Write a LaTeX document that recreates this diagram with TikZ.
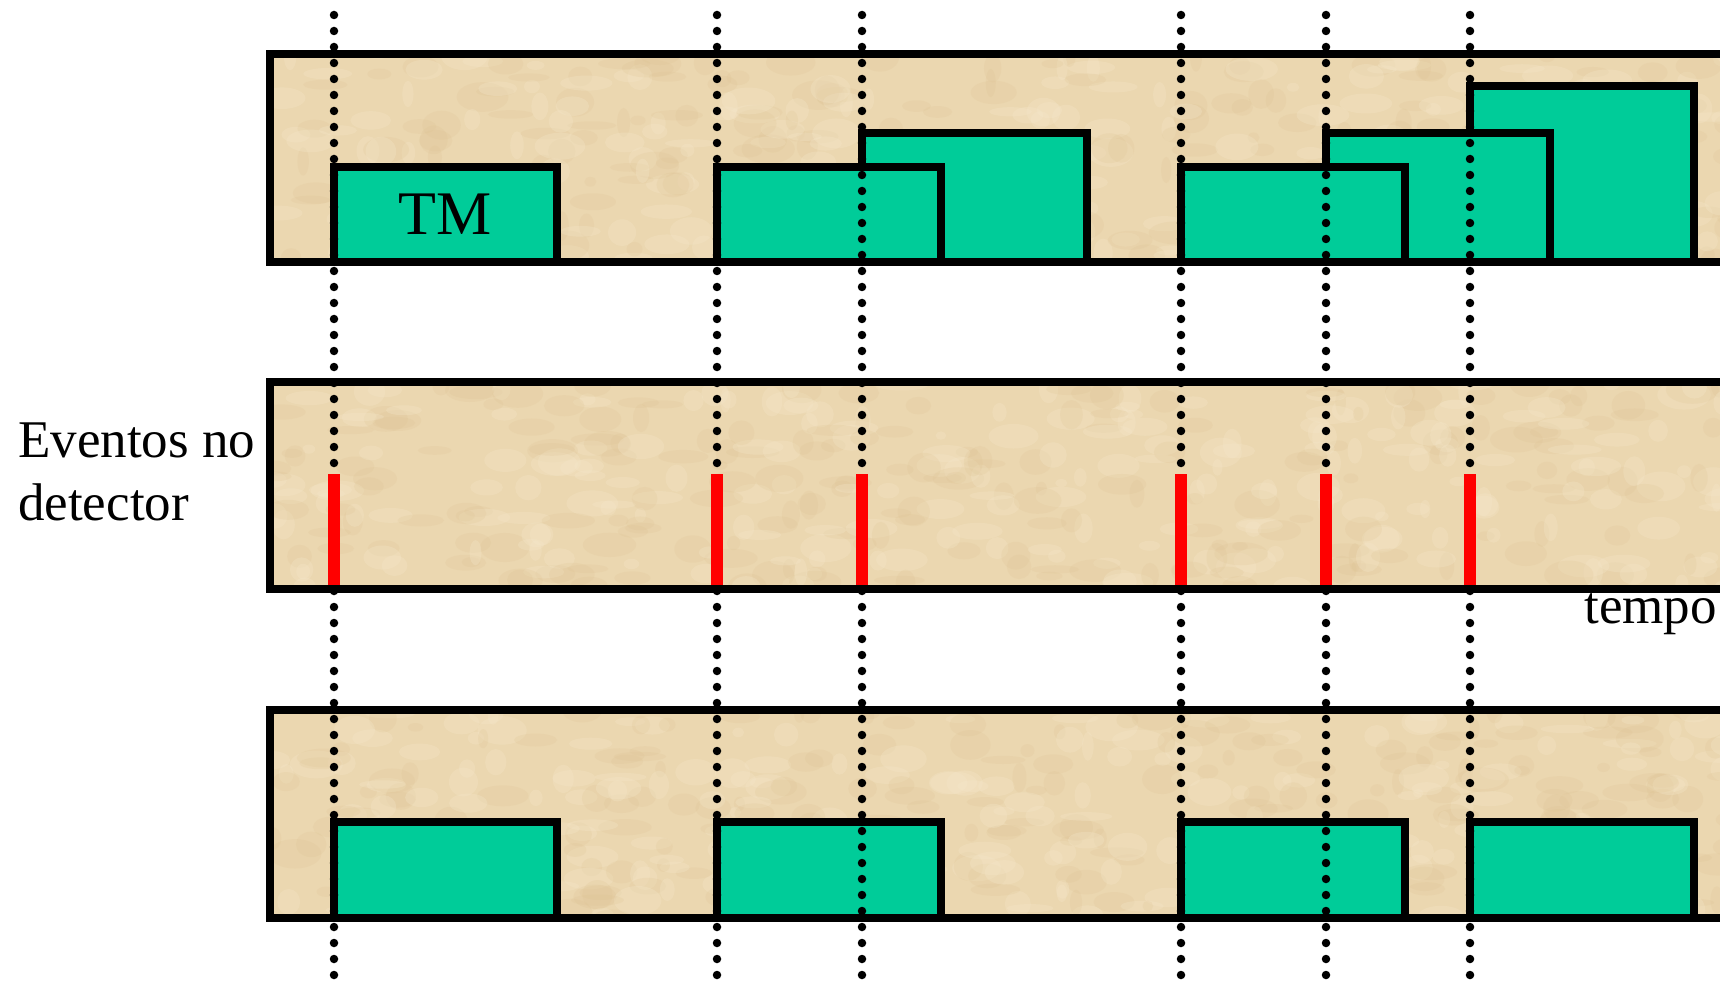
\documentclass[tikz,border=0pt]{standalone}
\usepackage{fontspec}
\setmainfont{Liberation Serif}
\definecolor{beige}{HTML}{EBD7B0}
\definecolor{beigelight}{HTML}{F5E7CA}
\definecolor{beigedark}{HTML}{DCC08F}
\definecolor{tmgreen}{HTML}{00CC99}
\tikzset{
  band/.style={draw=black, line width=8pt},
  tmbox/.style={fill=tmgreen, draw=black, line width=8pt},
  vdots/.style={draw=black, line width=8.5pt, line cap=round, dash pattern=on 0pt off 16pt},
  event/.style={draw=red, line width=12pt},
  lbl/.style={inner sep=0pt, font=\fontsize{53}{63}\selectfont}
}
\newcommand{\mytexture}[4]{%
  \begin{scope}
    \clip (#1,#2) rectangle (#3,#4);
    \fill[beige] (#1,#2) rectangle (#3,#4);
    \foreach \i in {1,...,420}{%
      \pgfmathsetmacro\px{#1+rnd*(#3-#1)}%
      \pgfmathsetmacro\py{#2+rnd*(#4-#2)}%
      \pgfmathsetmacro\rx{5+rnd*22}%
      \pgfmathsetmacro\ry{4+rnd*11}%
      \pgfmathsetmacro\sh{rnd}%
      \ifdim\sh pt<0.5pt
        \fill[beigelight, opacity=0.3] (\px,\py) ellipse[x radius=\rx, y radius=\ry];
      \else
        \fill[beigedark, opacity=0.18] (\px,\py) ellipse[x radius=\rx, y radius=\ry];
      \fi
    }
  \end{scope}}
\begin{document}
\begin{tikzpicture}[x=1pt,y=-1pt]
\pgfmathsetseed{42}
\useasboundingbox (0,0) rectangle (1720,981);
\clip (0,0) rectangle (1720,981);
\fill[white] (0,0) rectangle (1720,981);

% bands
\mytexture{270}{54}{1740}{262}
\mytexture{270}{382}{1740}{589}
\mytexture{270}{710}{1740}{918}
\draw[band] (270,54) rectangle (1740,262);
\draw[band] (270,382) rectangle (1740,589);
\draw[band] (270,710) rectangle (1740,918);

% top band boxes (later ones behind)
\draw[tmbox] (1470,86) rectangle (1694,262);
\draw[tmbox] (1326,133) rectangle (1550,262);
\draw[tmbox] (1181,167) rectangle (1405,262);
\draw[tmbox] (862,133) rectangle (1087,262);
\draw[tmbox] (717,167) rectangle (941,262);
\draw[tmbox] (334,167) rectangle (557,262);
\node[inner sep=0pt, font=\fontsize{62}{70}\selectfont] (tm) at (445,214) {TM};

% bottom band boxes
\draw[tmbox] (334,822) rectangle (557,918);
\draw[tmbox] (717,822) rectangle (941,918);
\draw[tmbox] (1181,822) rectangle (1405,918);
\draw[tmbox] (1470,822) rectangle (1694,918);

% dotted time lines
\foreach \x in {334,717,862,1181,1326,1470}{
  \draw[vdots] (\x,15) -- (\x,985);
}
% detector events
\foreach \x in {334,717,862,1181,1326,1470}{
  \draw[event] (\x,474) -- (\x,585);
}

% labels
\node[lbl, anchor=base west] (ev1) at (18,457) {Eventos no};
\node[lbl, anchor=base west] (ev2) at (18,520) {detector};
\node[lbl, anchor=base east] (tempo) at (1717,623) {tempo};
\end{tikzpicture}
\end{document}
